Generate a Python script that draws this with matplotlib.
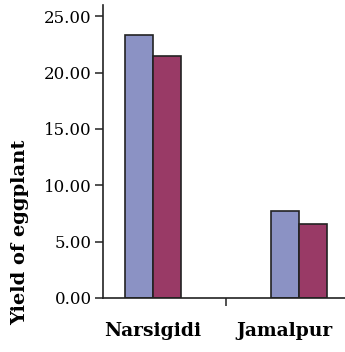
import numpy as np
import matplotlib.pyplot as plt
import matplotlib.transforms as mtransforms

sites = ['Narsigidi', 'Jamalpur']
series_a = [23.3, 7.7]
series_b = [21.5, 6.6]
yticks = [0, 5, 10, 15, 20, 25]

plt.rcParams['font.family'] = ['DejaVu Serif']

fig = plt.figure(figsize=(3.45, 3.52), dpi=100)
ax = fig.add_axes([103 / 345, 1 - 298 / 352, 242 / 345, 293 / 352])

x = np.arange(len(sites))
w = 0.192
ax.bar(x - w / 2, series_a, w, color='#8b92c4', edgecolor='#222222', linewidth=1.2)
ax.bar(x + w / 2, series_b, w, color='#993a66', edgecolor='#222222', linewidth=1.2)

ax.set_xlim(-0.342, 1.315)
ax.set_ylim(0, 26)
ax.set_yticks(yticks)
ax.set_yticklabels([f'{v:.2f}' for v in yticks], fontsize=12)
ax.set_xticks([0.5])
ax.set_xticklabels([''])
ax.set_xticks(x, minor=True)
ax.set_xticklabels(sites, minor=True, fontsize=13.5, fontweight='bold')
ax.tick_params(axis='x', which='minor', length=0, pad=17)
ax.tick_params(axis='y', which='major', pad=2)
ax.tick_params(axis='both', which='major', length=6, width=1.1, color='#222222')
# the last label sits a little left of its bars, as in the original
lab = ax.get_xticklabels(minor=True)[1]
lab.set_transform(lab.get_transform() + mtransforms.ScaledTranslation(-0.14, 0, fig.dpi_scale_trans))
for s in ['top', 'right']:
    ax.spines[s].set_visible(False)
for s in ['left', 'bottom']:
    ax.spines[s].set_linewidth(1.2)
    ax.spines[s].set_color('#222222')

fig.text(20 / 345, 1 - 232 / 352, 'Yield of eggplant', rotation=90, fontsize=14,
         fontweight='bold', ha='center', va='center')

fig.savefig('out.png', dpi=100)
